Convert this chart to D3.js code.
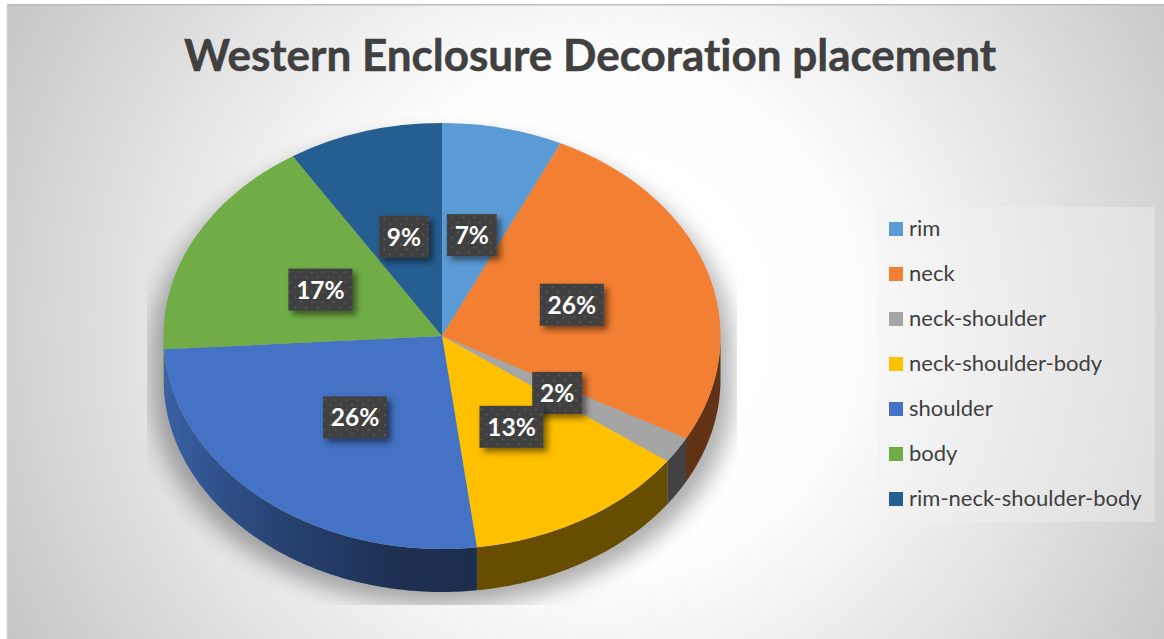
<!DOCTYPE html>
<html>
<head>
<meta charset="utf-8">
<script src="https://cdn.jsdelivr.net/npm/d3@7/dist/d3.min.js"></script>
<style>
  html, body { margin: 0; padding: 0; background: #fff; }
  svg { display: block; }
  text { font-family: Lato, "Open Sans", sans-serif; font-variant-ligatures: none; }
</style>
</head>
<body>
<div id="chart"></div>
<script>
// Decoration placement shares, clockwise from twelve o'clock.
const categories = ["rim", "neck", "neck-shoulder", "neck-shoulder-body", "shoulder", "body", "rim-neck-shoulder-body"];
const shares = [7, 26, 2, 13, 26, 17, 9];
const sliceColors = ["#5b9bd5", "#f37f33", "#a5a5a5", "#ffc000", "#4472c4", "#70ad47", "#255e91"];
const chartTitle = "Western Enclosure Decoration placement";

const W = 1164, H = 639;
const cx = 442, cy = 336, rx = 278.5, ry = 213, depth = 43;
const labelRadius = 0.49;

const svg = d3.select("#chart").append("svg").attr("width", W).attr("height", H);
const defs = svg.append("defs");

// Page backdrop: soft white glow falling off to grey at the corners.
const bg = defs.append("radialGradient").attr("id", "bg")
  .attr("gradientUnits", "userSpaceOnUse")
  .attr("cx", 600).attr("cy", 320).attr("r", 700);
[[0, "#ffffff"], [0.36, "#fefefe"], [0.68, "#e1e1e1"], [1, "#c2c2c2"]]
  .forEach(([o, c]) => bg.append("stop").attr("offset", o).attr("stop-color", c));

svg.append("rect").attr("x", 7).attr("y", 5).attr("width", W - 7).attr("height", H - 5).attr("fill", "url(#bg)");
svg.append("rect").attr("x", 7).attr("y", 4).attr("width", W - 7).attr("height", 1.5).attr("fill", "#bcbcbc");
svg.append("rect").attr("x", 6.5).attr("y", 5).attr("width", 1).attr("height", H - 5).attr("fill", "#d8d8d8");

// Drop shadow below the disc, cut off by a rectangular plot box.
defs.append("filter").attr("id", "discBlur")
  .attr("x", "-20%").attr("y", "-20%").attr("width", "140%").attr("height", "140%")
  .append("feGaussianBlur").attr("stdDeviation", 11);
defs.append("clipPath").attr("id", "plotBox").append("rect")
  .attr("x", 147).attr("y", 100).attr("width", 590).attr("height", 505);

// Label shadow and the dotted texture of the label boxes.
const labelShadow = defs.append("filter").attr("id", "labelShadow")
  .attr("x", "-30%").attr("y", "-30%").attr("width", "170%").attr("height", "170%");
labelShadow.append("feDropShadow")
  .attr("dx", 4).attr("dy", 4).attr("stdDeviation", 3)
  .attr("flood-color", "#000").attr("flood-opacity", 0.5);

const dots = defs.append("pattern").attr("id", "dots")
  .attr("patternUnits", "userSpaceOnUse").attr("width", 11).attr("height", 10);
dots.append("rect").attr("width", 11).attr("height", 10).attr("fill", "#3f3f3f");
dots.append("circle").attr("cx", 2.5).attr("cy", 2.5).attr("r", 1.1).attr("fill", "#5c5c5c");
dots.append("circle").attr("cx", 8).attr("cy", 7.5).attr("r", 1.1).attr("fill", "#5c5c5c");

// Disc geometry: unit coordinates mapped onto the tilted ellipse.
const xScale = d3.scaleLinear().domain([-1, 1]).range([cx - rx, cx + rx]);
const yScale = d3.scaleLinear().domain([-1, 1]).range([cy + ry, cy - ry]);

const pieData = d3.pie().value(d => d).sort(null)(shares);
const arc = d3.arc().innerRadius(0).outerRadius(rx);
const labelArc = d3.arc().innerRadius(rx * labelRadius).outerRadius(rx * labelRadius);

const rimArea = d3.area()
  .x(a => xScale(Math.sin(a)))
  .y0(a => yScale(Math.cos(a)))
  .y1(a => yScale(Math.cos(a)) + depth);

function anglesBetween(a0, a1) {
  const n = Math.max(2, Math.ceil((a1 - a0) / 0.01));
  return d3.range(n + 1).map(i => a0 + (a1 - a0) * i / n);
}

// Shadow shape: the whole front wall plus the top face, pushed down and widened.
const shadowGroup = svg.append("g").attr("clip-path", "url(#plotBox)")
  .append("g").attr("filter", "url(#discBlur)").attr("opacity", 0.32)
  .attr("transform", `translate(${cx},${cy + 13}) scale(1.04,1) translate(${-cx},${-cy})`);
shadowGroup.append("path")
  .attr("d", rimArea(anglesBetween(Math.PI / 2, Math.PI * 1.5)))
  .attr("fill", "#000");
shadowGroup.append("ellipse").attr("cx", cx).attr("cy", cy).attr("rx", rx).attr("ry", ry).attr("fill", "#000");

// Front wall: darkened slice colours, lit towards the left side of the disc.
const wallShade = [[163, 0.85], [230, 0.68], [300, 0.55], [400, 0.42], [480, 0.4]];
pieData.forEach((d, i) => {
  const a0 = Math.max(d.startAngle, Math.PI / 2);
  const a1 = Math.min(d.endAngle, Math.PI * 1.5);
  if (a1 <= a0) return;
  const base = d3.rgb(sliceColors[i]);
  const gradient = defs.append("linearGradient").attr("id", "wall" + i)
    .attr("gradientUnits", "userSpaceOnUse")
    .attr("x1", 163).attr("x2", 480).attr("y1", 0).attr("y2", 0);
  wallShade.forEach(([x, k]) => {
    gradient.append("stop").attr("offset", (x - 163) / (480 - 163))
      .attr("stop-color", d3.rgb(base.r * k, base.g * k, base.b * k).formatHex());
  });
  svg.append("path")
    .attr("d", rimArea(anglesBetween(a0, a1)))
    .attr("fill", `url(#wall${i})`);
});

// Top face of the disc.
const topFace = svg.append("g").attr("transform", `translate(${cx},${cy}) scale(1,${ry / rx})`);
topFace.selectAll("path").data(pieData).join("path")
  .attr("d", arc)
  .attr("fill", (d, i) => sliceColors[i]);

// Percentage labels sit at a fixed fraction of the radius along each slice's middle.
const labels = svg.append("g").selectAll("g").data(pieData).join("g")
  .attr("transform", d => {
    const [x, y] = labelArc.centroid(d);
    return `translate(${cx + x},${cy + y * ry / rx + 1})`;
  });
labels.append("rect")
  .attr("x", d => d.value >= 10 ? -32 : -25)
  .attr("width", d => d.value >= 10 ? 64 : 50)
  .attr("y", -21).attr("height", 42)
  .attr("fill", "url(#dots)")
  .attr("filter", "url(#labelShadow)");
labels.append("text")
  .attr("text-anchor", "middle").attr("y", 9)
  .attr("font-size", 24.5).attr("font-weight", 700).attr("fill", "#fff")
  .text(d => d.value + "%");

// Title.
svg.append("text")
  .attr("x", 590).attr("y", 71).attr("text-anchor", "middle")
  .attr("font-size", 44).attr("font-weight", 700).attr("fill", "#404040")
  .attr("stroke", "#404040").attr("stroke-width", 0.5)
  .text(chartTitle);

// Legend panel.
const legendY = d3.scalePoint().domain(categories).range([229, 499]);
svg.append("rect").attr("x", 877).attr("y", 207).attr("width", 278).attr("height", 315)
  .attr("fill", "#f2f2f2").attr("opacity", 0.39);
const legend = svg.append("g").selectAll("g").data(categories).join("g")
  .attr("transform", d => `translate(889,${legendY(d)})`);
legend.append("rect").attr("y", -7).attr("width", 14).attr("height", 14)
  .attr("fill", (d, i) => sliceColors[i]);
legend.append("text").attr("x", 20).attr("y", 7)
  .attr("font-size", 22).attr("fill", "#404040").text(d => d);
</script>
</body>
</html>
